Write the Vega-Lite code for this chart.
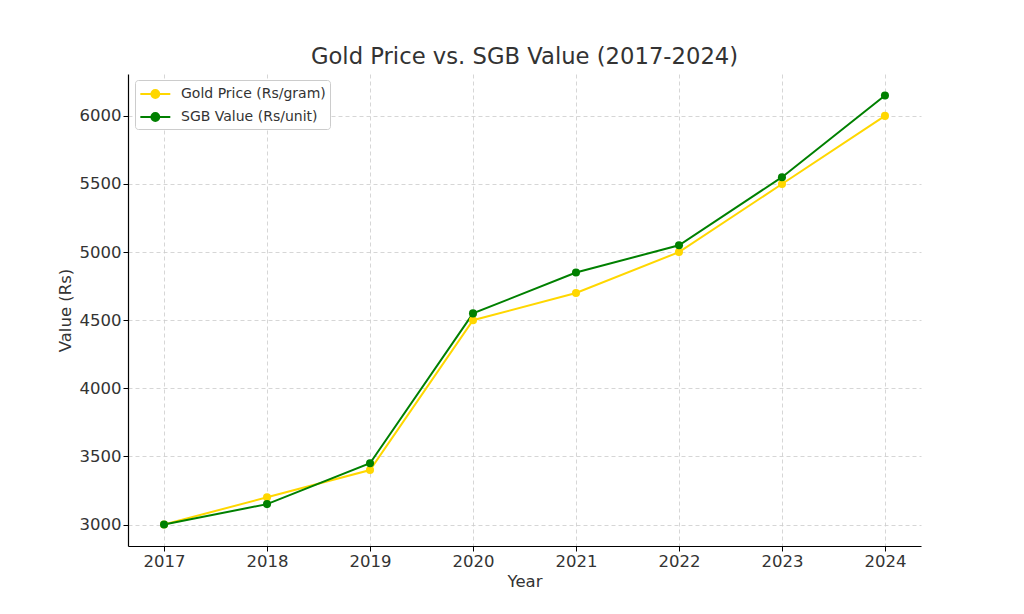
{
  "$schema": "https://vega.github.io/schema/vega-lite/v6.json",
  "autosize": {"type": "none"},
  "padding": {"left": 128, "top": 74, "right": 103, "bottom": 68},
  "width": 793,
  "height": 472,
  "background": "white",
  "title": {"text": "Gold Price vs. SGB Value (2017-2024)", "fontSize": 22.7, "font": "DejaVu Sans", "fontWeight": "normal", "color": "#333333", "anchor": "middle", "offset": 5},
  "config": {
    "view": {"stroke": null},
    "font": "DejaVu Sans",
    "axis": {
      "labelFont": "DejaVu Sans", "labelFontSize": 16.5, "labelColor": "#333333",
      "titleFont": "DejaVu Sans", "titleFontSize": 16.5, "titleFontWeight": "normal", "titleColor": "#333333",
      "domainColor": "#000000", "domainWidth": 1.2, "tickColor": "#000000", "tickSize": 5, "tickWidth": 1,
      "gridColor": "#cccccc", "gridDash": [4, 3], "gridWidth": 0.8, "labelPadding": 2
    }
  },
  "data": {"values": [
    {"Year": 2017, "Series": "Gold Price (Rs/gram)", "Value": 3000},
    {"Year": 2018, "Series": "Gold Price (Rs/gram)", "Value": 3200},
    {"Year": 2019, "Series": "Gold Price (Rs/gram)", "Value": 3400},
    {"Year": 2020, "Series": "Gold Price (Rs/gram)", "Value": 4500},
    {"Year": 2021, "Series": "Gold Price (Rs/gram)", "Value": 4700},
    {"Year": 2022, "Series": "Gold Price (Rs/gram)", "Value": 5000},
    {"Year": 2023, "Series": "Gold Price (Rs/gram)", "Value": 5500},
    {"Year": 2024, "Series": "Gold Price (Rs/gram)", "Value": 6000},
    {"Year": 2017, "Series": "SGB Value (Rs/unit)", "Value": 3000},
    {"Year": 2018, "Series": "SGB Value (Rs/unit)", "Value": 3150},
    {"Year": 2019, "Series": "SGB Value (Rs/unit)", "Value": 3450},
    {"Year": 2020, "Series": "SGB Value (Rs/unit)", "Value": 4550},
    {"Year": 2021, "Series": "SGB Value (Rs/unit)", "Value": 4850},
    {"Year": 2022, "Series": "SGB Value (Rs/unit)", "Value": 5050},
    {"Year": 2023, "Series": "SGB Value (Rs/unit)", "Value": 5550},
    {"Year": 2024, "Series": "SGB Value (Rs/unit)", "Value": 6150}
  ]},
  "encoding": {
    "x": {"field": "Year", "type": "quantitative", "title": "Year",
      "scale": {"domain": [2016.65, 2024.35], "nice": false, "zero": false},
      "axis": {"values": [2017, 2018, 2019, 2020, 2021, 2022, 2023, 2024], "format": "d", "titlePadding": 4}},
    "y": {"field": "Value", "type": "quantitative", "title": "Value (Rs)",
      "scale": {"domain": [2842.5, 6307.5], "nice": false, "zero": false},
      "axis": {"values": [3000, 3500, 4000, 4500, 5000, 5500, 6000], "format": "d", "titlePadding": 6}},
    "color": {"field": "Series", "type": "nominal",
      "scale": {"domain": ["Gold Price (Rs/gram)", "SGB Value (Rs/unit)"], "range": ["#FFD700", "#008000"]},
      "legend": {"title": null, "orient": "none", "legendX": 7, "legendY": 6,
        "symbolType": "M-1,0H2.46M0.28,0A0.45,0.45 0 1,1 1.18,0A0.45,0.45 0 1,1 0.28,0Z",
        "symbolSize": 300, "symbolStrokeWidth": 2,
        "labelFont": "DejaVu Sans", "labelFontSize": 14, "labelColor": "#333333", "labelOffset": 22,
        "rowPadding": 5, "padding": 4, "strokeColor": "#cccccc", "cornerRadius": 3, "fillColor": "white",
        "encode": {"symbols": {"update": {"fill": {"scale": "color", "field": "value"}, "stroke": {"scale": "color", "field": "value"}, "strokeWidth": {"value": 2}}}}}}
  },
  "layer": [
    {"mark": {"type": "line", "strokeWidth": 2}},
    {"mark": {"type": "point", "filled": true, "size": 65, "opacity": 1}}
  ]
}
